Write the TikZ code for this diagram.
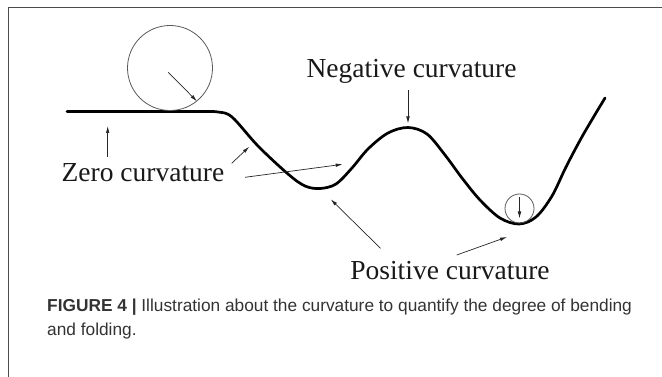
\documentclass[tikz,border=0pt]{standalone}
\usepackage{fontspec}
\setmainfont{Liberation Serif}
\newfontfamily\capfont{Liberation Sans}
\usetikzlibrary{arrows.meta}

\begin{document}
\begin{tikzpicture}[
  x=1pt, y=-1pt,
  >=Stealth,
  curve/.style={line width=2.7pt, black, line cap=round, line join=round},
  ring/.style={circle, draw=black!65, line width=0.8pt, inner sep=0pt},
  lbl/.style={font=\fontsize{27.5}{30}\selectfont, text=black!90, anchor=base, inner sep=0pt},
  arr/.style={-{Latex[length=7pt, width=3.6pt]}, line width=0.7pt, black!85},
]
  \useasboundingbox (0,0) rectangle (662,377);

  % ----- Frame -----
  \draw[black!70, line width=1pt] (662,7.5) -- (8,7.5) -- (8,377);

  % ----- Surface -----
  \draw[curve] (67,111.5) -- (205,111.5)
    plot[smooth, tension=0.55] coordinates {
      (205,111.5) (218,112) (232,117) (258,146) (288,174) (305,186)
      (320,188.5) (336,184) (352,168) (368,149) (388,133) (408,127.5)
      (427,134) (445,155) (462,178) (480,200) (500,218) (519,224)
      (536,217) (552,196) (566,167) (583,135) (605,98)};

  % ----- Osculating circles -----
  \node[ring, minimum size=85pt] (bigc)   at (170,68)    {};
  \node[ring, minimum size=29pt] (smallc) at (519.5,208.5) {};

  % ----- Labels -----
  \node[lbl] (neg)  at (411.6,78)  {Negative curvature};
  \node[lbl] (zero) at (143,181.7) {Zero curvature};
  \node[lbl] (pos)  at (450,279.3) {Positive curvature};

  % arrow ends
  \coordinate (rtail) at (168,72);
  \coordinate (stop)  at (519.5,197.5);
  \coordinate (sbot)  at (519.5,218.5);
  \coordinate (peak)  at (408,123.5);
  \coordinate (flat)  at (107.7,126);
  \coordinate (slope) at (249.3,146.7);
  \coordinate (rise)  at (342.7,164.3);
  \coordinate (low1)  at (330.7,199.3);
  \coordinate (low2)  at (507,237);

  % ----- Arrows -----
  \draw[arr] (rtail) -- (bigc.-51);
  \draw[arr] (stop) -- (sbot);
  \draw[arr] (neg.south -| peak) ++(0,6) -- (peak);
  \draw[arr] (107.7,157) -- (flat);
  \draw[arr] (231.7,163.3) -- (slope);
  \draw[arr] (245,177.3) -- (rise);
  \draw[arr] (380.5,248.3) -- (low1);
  \draw[arr] (456.7,255) -- (low2);

  % ----- Caption -----
  \node[font=\capfont\fontsize{17.3}{23.5}\selectfont, text=black!80, align=left,
        anchor=base west, inner sep=0pt] (cap) at (47,335)
    {\textbf{FIGURE 4 |} Illustration about the curvature to quantify the degree of bending\\
     and folding.};
\end{tikzpicture}
\end{document}
